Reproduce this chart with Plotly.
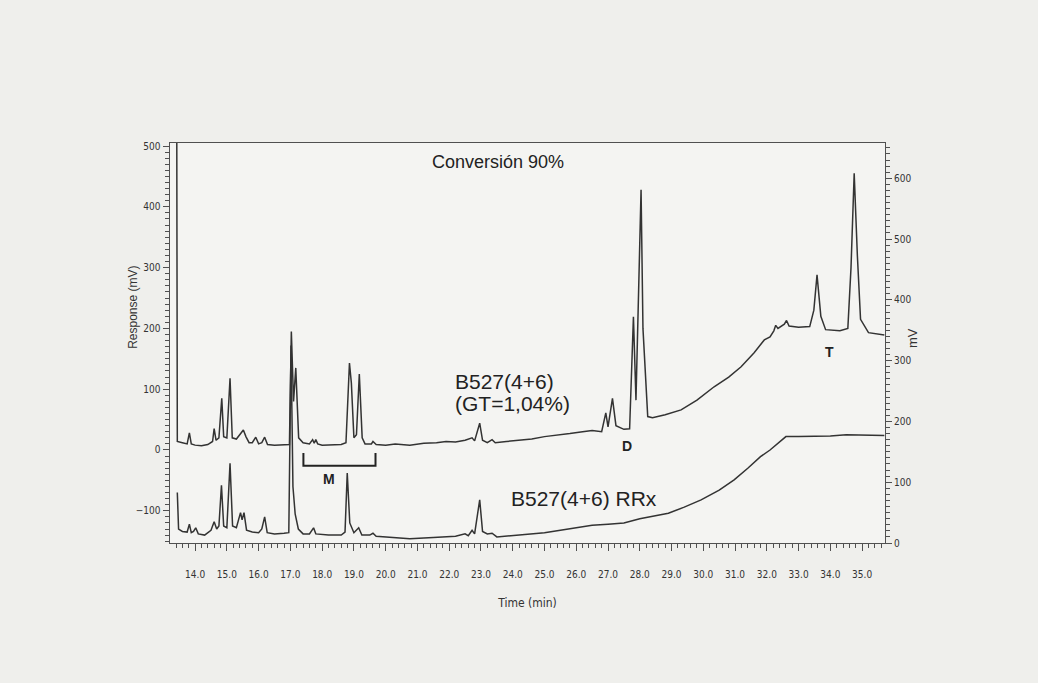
import plotly.graph_objects as go

# ---- data (time in min, response in mV) ----
upper_time = [13.42, 13.44, 13.6, 13.75, 13.82, 13.88, 14.0, 14.2, 14.4, 14.55, 14.6, 14.66, 14.75, 14.84, 14.9,
              15.0, 15.1, 15.17, 15.3, 15.45, 15.52, 15.6, 15.7, 15.8, 15.91, 16.0, 16.1, 16.19, 16.28, 16.5,
              16.8, 16.97, 17.03, 17.1, 17.17, 17.26, 17.4, 17.6, 17.7, 17.75, 17.8, 17.86, 18.0, 18.3, 18.6,
              18.75, 18.86, 18.92, 19.0, 19.08, 19.17, 19.26, 19.35, 19.55, 19.6, 19.7, 20.0, 20.3, 20.6, 20.76,
              21.2, 21.6, 21.9, 22.2, 22.5, 22.72, 22.8, 22.96, 23.05, 23.2, 23.35, 23.45, 23.8, 24.2, 24.6,
              25.0, 25.4, 25.8, 26.2, 26.5, 26.8, 26.93, 27.0, 27.14, 27.25, 27.5, 27.68, 27.8, 27.88, 28.04,
              28.1, 28.15, 28.25, 28.4, 28.8, 29.3, 29.8, 30.34, 30.8, 31.19, 31.6, 31.92, 32.1, 32.22, 32.28,
              32.35, 32.55, 32.62, 32.7, 33.0, 33.35, 33.48, 33.58, 33.7, 33.85, 34.3, 34.55, 34.65, 34.75,
              34.85, 34.95, 35.2, 35.7]
upper_mv = [620, 14, 12, 10, 28, 10, 8, 7, 9, 14, 35, 16, 20, 85, 22,
            20, 118, 20, 18, 27, 33, 22, 12, 12, 21, 10, 12, 21, 9, 8,
            8, 9, 195, 80, 135, 20, 12, 10, 17, 11, 17, 10, 8, 8, 9,
            12, 143, 110, 20, 25, 125, 20, 10, 10, 14, 9, 8, 10, 9, 8,
            11, 12, 14, 13, 16, 20, 15, 44, 16, 12, 17, 12, 14, 16, 18,
            22, 24, 27, 30, 32, 30, 61, 38, 85, 40, 34, 35, 219, 82, 428,
            200, 150, 55, 53, 58, 66, 82, 104, 120, 137, 160, 181, 186, 196, 205,
            200, 207, 213, 204, 202, 203, 230, 288, 220, 198, 196, 200, 300, 455,
            320, 215, 193, 189]

lower_time = [13.44, 13.48, 13.6, 13.75, 13.82, 13.88, 13.95, 14.02, 14.1, 14.3, 14.5, 14.6, 14.68, 14.75, 14.83,
              14.9, 15.0, 15.1, 15.18, 15.3, 15.43, 15.48, 15.54, 15.62, 15.8, 16.0, 16.1, 16.19, 16.27, 16.5,
              16.8, 16.95, 17.02, 17.08, 17.15, 17.25, 17.4, 17.6, 17.73, 17.8, 18.2, 18.6, 18.72, 18.79, 18.87,
              19.0, 19.15, 19.25, 19.5, 19.6, 19.7, 20.0, 20.5, 20.76, 21.5, 22.2, 22.5, 22.6, 22.72, 22.8,
              22.96, 23.05, 23.2, 23.35, 23.5, 24.0, 24.5, 25.0, 25.5, 26.0, 26.5, 27.0, 27.5, 28.0, 28.5,
              28.9, 29.4, 29.93, 30.5, 30.97, 31.4, 31.8, 32.1, 32.36, 32.6, 33.0, 33.5, 34.0, 34.5, 35.0, 35.7]
lower_mv = [-70, -130, -134, -135, -122, -136, -134, -128, -138, -140, -132, -118, -130, -125, -58,
            -125, -128, -22, -125, -128, -103, -115, -103, -132, -135, -136, -130, -110, -136, -138,
            -137, -136, 172, -60, -105, -130, -138, -138, -128, -138, -140, -140, -135, -38, -120,
            -136, -128, -140, -140, -137, -142, -143, -145, -146, -144, -142, -138, -141, -132, -138,
            -82, -134, -138, -137, -143, -141, -138, -136, -132, -128, -124, -122, -120, -113, -108,
            -104, -94, -82, -66, -49, -30, -11, 0, 11, 22, 22, 22, 23, 25, 25, 24]

x_tick_values = [14.0, 15.0, 16.0, 17.0, 18.0, 19.0, 20.0, 21.0, 22.0, 23.0, 24.0, 25.0,
                 26.0, 27.0, 28.0, 29.0, 30.0, 31.0, 32.0, 33.0, 34.0, 35.0]
x_tick_labels = [f"{v:.1f}" for v in x_tick_values]
left_tick_values = [-100, 0, 100, 200, 300, 400, 500]
right_tick_values = [0, 100, 200, 300, 400, 500, 600]

# ---- styling ----
LINE = "#333333"
AXIS = "#505050"
TICKFONT = dict(family="Liberation Sans Narrow, Arial Narrow, DejaVu Sans Condensed, sans-serif",
                size=10, color="#333333")
TEXTFONT = "Liberation Sans, Arial, Helvetica, sans-serif"
PAPER = "#efefec"

fig = go.Figure()
fig.add_trace(go.Scatter(x=upper_time, y=upper_mv, mode="lines",
                         line=dict(color=LINE, width=1.5), hoverinfo="skip", showlegend=False))
fig.add_trace(go.Scatter(x=lower_time, y=lower_mv, mode="lines",
                         line=dict(color=LINE, width=1.5), hoverinfo="skip", showlegend=False))
# invisible trace to activate the right axis
fig.add_trace(go.Scatter(x=[20], y=[100], yaxis="y2", mode="markers",
                         marker=dict(opacity=0), hoverinfo="skip", showlegend=False))

fig.update_layout(
    width=1038, height=683,
    margin=dict(l=170, r=153, t=143, b=140),
    paper_bgcolor=PAPER,
    plot_bgcolor="#f4f4f2",
    showlegend=False,
    xaxis=dict(range=[13.21, 35.72], tickvals=x_tick_values, ticktext=x_tick_labels,
               ticks="outside", ticklen=7, tickcolor=AXIS, showline=True, linecolor=AXIS,
               linewidth=1, mirror=True, showgrid=False, zeroline=False, tickfont=TICKFONT,
               ticklabelstandoff=15,
               minor=dict(dtick=0.2, tick0=14, ticks="outside", ticklen=4, tickcolor=AXIS),
               title=dict(text="Time (min)", font=dict(family=TICKFONT["family"], size=12, color="#333333"),
                          standoff=19)),
    yaxis=dict(range=[-153, 505], tickvals=left_tick_values, ticks="outside", ticklen=6,
               tickcolor=AXIS, showline=True, linecolor=AXIS, linewidth=1.5, showgrid=False,
               zeroline=False, tickfont=TICKFONT, ticklabelstandoff=0,
               minor=dict(dtick=10, tick0=0, ticks="outside", ticklen=4, tickcolor=AXIS)),
    yaxis2=dict(range=[0, 658], tickvals=right_tick_values, overlaying="y", side="right",
                ticks="outside", ticklen=6, tickcolor=AXIS, showline=True, linecolor=AXIS,
                linewidth=1, showgrid=False, zeroline=False, tickfont=TICKFONT, ticklabelstandoff=0,
                minor=dict(dtick=10, tick0=0, ticks="outside", ticklen=4, tickcolor=AXIS)),
)

# axis titles placed as rotated annotations
fig.add_annotation(x=-0.052, y=0.59, xref="paper", yref="paper", text="Response (mV)", textangle=-90,
                   showarrow=False, xanchor="center", yanchor="middle",
                   font=dict(family=TEXTFONT, size=12, color="#333333"))
fig.add_annotation(x=1.0378, y=0.5125, xref="paper", yref="paper", text="mV", textangle=-90,
                   showarrow=False, xanchor="center", yanchor="middle",
                   font=dict(family=TEXTFONT, size=13, color="#333333"))

def note(text, x, y, size, bold=False, xanchor="center"):
    fig.add_annotation(x=x, y=y, xref="x", yref="y", text=f"<b>{text}</b>" if bold else text,
                       showarrow=False, xanchor=xanchor, yanchor="middle",
                       font=dict(family=TEXTFONT, size=size, color="#222222"), align="left")

note("Conversión 90%", 23.53, 474, 18)
note("B527(4+6)", 22.11, 112, 21, xanchor="left")
note("(GT=1,04%)", 22.11, 77, 21, xanchor="left")
note("B527(4+6) RRx", 23.87, -79, 21, xanchor="left")
note("D", 27.6, 7, 14, bold=True)
note("T", 33.97, 161, 14, bold=True)
note("M", 18.2, -48, 14, bold=True)

# bracket marking region M
m_start, m_end, m_top, m_bottom = 17.41, 19.68, -5, -26
fig.add_shape(type="path", xref="x", yref="y",
              path=f"M {m_start},{m_top} L {m_start},{m_bottom} L {m_end},{m_bottom} L {m_end},{m_top}",
              line=dict(color="#222222", width=2))

fig.write_html("out.html", config={"displayModeBar": False, "staticPlot": True},
               post_script=f"document.body.style.margin='0';document.body.style.background='{PAPER}';"
                           "document.documentElement.style.overflow='hidden';")
